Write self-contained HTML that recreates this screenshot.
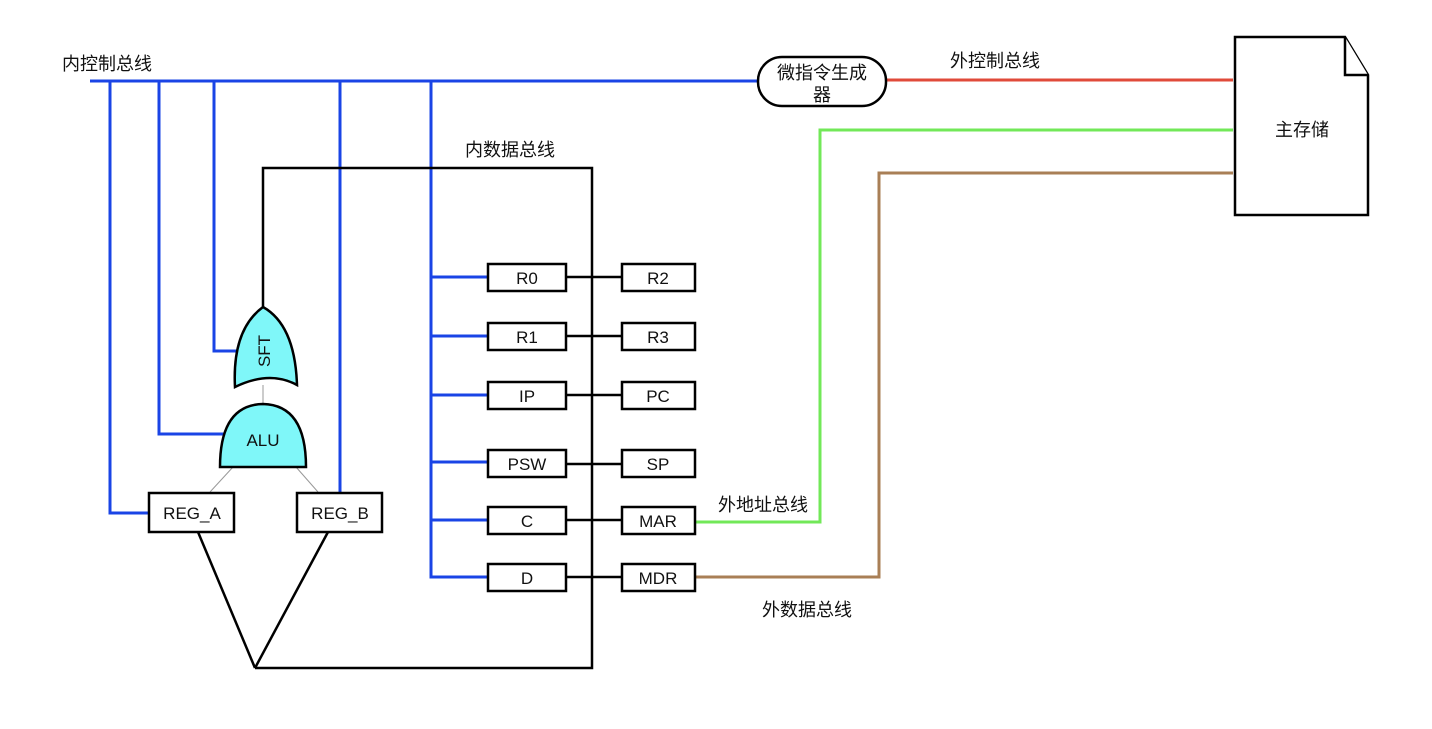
<!DOCTYPE html>
<html><head><meta charset="utf-8"><style>
body{margin:0;background:#fff;}
svg text{font-family:"Liberation Sans","Noto Sans CJK SC",sans-serif;font-size:17px;fill:#111;}
svg text.cn{font-size:18px;}
</style></head><body>
<svg width="1432" height="724" viewBox="0 0 1432 724" xmlns="http://www.w3.org/2000/svg">
<g fill="none" stroke-linejoin="miter">
<g stroke="#1a44e6" stroke-width="3">
<line x1="90" y1="81" x2="760" y2="81"/>
<polyline points="110,81 110,513 149,513"/>
<polyline points="159,81 159,434 226,434"/>
<polyline points="214,81 214,351 240,351"/>
<polyline points="340,81 340,493"/>
<polyline points="431,81 431,577 488,577"/>
<line x1="431" y1="277" x2="488" y2="277"/>
<line x1="431" y1="336" x2="488" y2="336"/>
<line x1="431" y1="395" x2="488" y2="395"/>
<line x1="431" y1="462" x2="488" y2="462"/>
<line x1="431" y1="520" x2="488" y2="520"/>
</g>
<line x1="886" y1="80" x2="1233" y2="80" stroke="#e04a3a" stroke-width="3"/>
<polyline points="1233,130 820,130 820,522 695,522" stroke="#72e858" stroke-width="3"/>
<polyline points="1233,173 879,173 879,577 695,577" stroke="#a97f56" stroke-width="3"/>
<g stroke="#000" stroke-width="2.5">
<polyline points="263,310 263,168 592,168 592,668 255,668"/>
<line x1="198" y1="532" x2="255" y2="668"/>
<line x1="328" y1="532" x2="255" y2="668"/>
<line x1="566" y1="277" x2="622" y2="277"/>
<line x1="566" y1="336" x2="622" y2="336"/>
<line x1="566" y1="395" x2="622" y2="395"/>
<line x1="566" y1="464" x2="622" y2="464"/>
<line x1="566" y1="520" x2="622" y2="520"/>
<line x1="566" y1="577" x2="622" y2="577"/>
</g>
<g stroke="#999" stroke-width="1">
<line x1="263" y1="385" x2="263" y2="405"/>
<line x1="233" y1="467" x2="210" y2="492"/>
<line x1="296" y1="467" x2="318" y2="492"/>
</g>
</g>
<path d="M263,307 Q295,325 297,385 Q270,370 235,387 Q232,330 263,307 Z" fill="#7ff7f9" stroke="#000" stroke-width="2.5"/>
<text transform="translate(270,351) rotate(-90)" text-anchor="middle" font-size="16">SFT</text>
<path d="M220,467 Q220,405 263,404 Q306,405 306,467 Z" fill="#7ff7f9" stroke="#000" stroke-width="2.5"/>
<text x="263" y="446" text-anchor="middle">ALU</text>
<g fill="#fff" stroke="#000" stroke-width="2.5">
<rect x="149" y="493" width="85" height="39"/>
<rect x="297" y="493" width="85" height="39"/>
<rect x="488" y="264" width="78" height="27"/>
<rect x="488" y="323" width="78" height="27"/>
<rect x="488" y="382" width="78" height="27"/>
<rect x="488" y="450" width="78" height="27"/>
<rect x="488" y="507" width="78" height="27"/>
<rect x="488" y="564" width="78" height="27"/>
<rect x="622" y="264" width="73" height="27"/>
<rect x="622" y="323" width="73" height="27"/>
<rect x="622" y="382" width="73" height="27"/>
<rect x="622" y="450" width="73" height="27"/>
<rect x="622" y="507" width="73" height="27"/>
<rect x="622" y="564" width="73" height="27"/>
<rect x="758" y="57" width="128" height="49" rx="24"/>
<path d="M1235,37 L1345,37 L1368,75 L1368,215 L1235,215 Z"/>
<path d="M1345,37 L1345,75 L1368,75"/>
</g>
<g text-anchor="middle">
<text x="192" y="519">REG_A</text>
<text x="340" y="519">REG_B</text>
<text x="527" y="284">R0</text>
<text x="527" y="343">R1</text>
<text x="527" y="402">IP</text>
<text x="527" y="470">PSW</text>
<text x="527" y="527">C</text>
<text x="527" y="584">D</text>
<text x="658" y="284">R2</text>
<text x="658" y="343">R3</text>
<text x="658" y="402">PC</text>
<text x="658" y="470">SP</text>
<text x="658" y="527">MAR</text>
<text x="658" y="584">MDR</text>
<text class="cn" x="822" y="79">微指令生成</text>
<text class="cn" x="822" y="101">器</text>
<text class="cn" x="1302" y="136">主存储</text>
</g>
<text class="cn" x="62" y="70">内控制总线</text>
<text class="cn" x="465" y="156">内数据总线</text>
<text class="cn" x="950" y="67">外控制总线</text>
<text class="cn" x="718" y="511">外地址总线</text>
<text class="cn" x="762" y="616">外数据总线</text>
</svg>
</body></html>
